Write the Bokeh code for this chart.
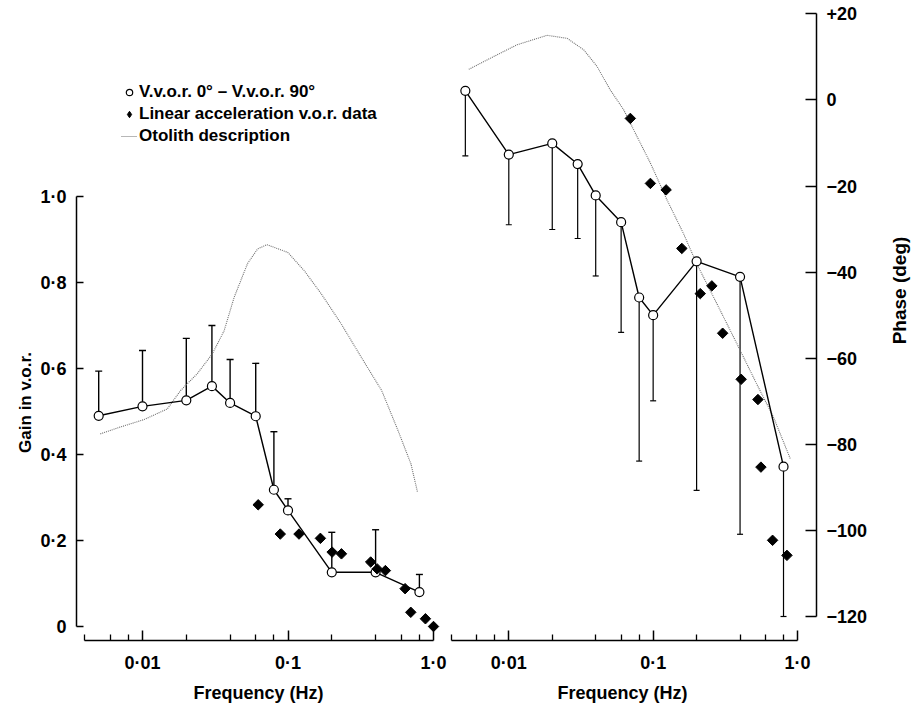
import numpy as np
from bokeh.plotting import figure
from bokeh.models import (Range1d, LogScale, LinearScale, FixedTicker, Whisker, TeeHead,
                          ColumnDataSource, Legend, LegendItem, Label, LinearAxis, LogAxis)
from bokeh.embed import file_html
from bokeh.resources import INLINE

# ---------------- data ----------------
# V.v.o.r. 0deg - V.v.o.r. 90deg (open circles)
vvor_freq = [0.005, 0.01, 0.02, 0.03, 0.04, 0.06, 0.08, 0.1, 0.2, 0.4, 0.8]
vvor_gain = [0.49, 0.512, 0.526, 0.559, 0.52, 0.489, 0.318, 0.27, 0.126, 0.126, 0.08]
vvor_gain_upper = [0.594, 0.642, 0.67, 0.70, 0.621, 0.612, 0.453, 0.297, 0.219, 0.225, 0.121]
vvor_phase = [2.1, -12.7, -10.1, -14.9, -22.2, -28.4, -45.9, -50.0, -37.5, -41.1, -85.2]
vvor_phase_lower = [-13.0, -29.0, -30.1, -32.2, -40.9, -54.0, -83.9, -69.9, -90.7, -100.9, -120.0]

# Linear acceleration v.o.r. data (filled diamonds)
lin_gain_freq = [0.0624, 0.0885, 0.119, 0.167, 0.201, 0.233, 0.37, 0.41, 0.467, 0.638, 0.698, 0.88, 1.0]
lin_gain = [0.283, 0.215, 0.215, 0.205, 0.173, 0.169, 0.15, 0.134, 0.13, 0.088, 0.033, 0.018, 0.0]
lin_phase_freq = [0.0695, 0.0957, 0.123, 0.158, 0.212, 0.255, 0.303, 0.407, 0.532, 0.558, 0.672, 0.845]
lin_phase = [-4.3, -19.4, -20.9, -34.5, -45.0, -43.2, -54.2, -64.9, -69.6, -85.3, -102.3, -105.8]

# Otolith description (dotted curves)
oto_gain_freq = [0.00513, 0.00705, 0.0102, 0.0148, 0.0183, 0.0238, 0.0302, 0.0364, 0.0427,
                 0.0527, 0.0618, 0.0716, 0.0995, 0.129, 0.169, 0.232, 0.319, 0.44, 0.57,
                 0.70, 0.777]
oto_gain = [0.448, 0.464, 0.481, 0.506, 0.549, 0.588, 0.634, 0.688, 0.766,
            0.844, 0.878, 0.888, 0.870, 0.828, 0.774, 0.704, 0.626, 0.549, 0.456,
            0.378, 0.312]
oto_phase_freq = [0.00528, 0.00747, 0.0114, 0.0184, 0.0254, 0.0331, 0.0408, 0.0505, 0.0625,
                  0.0773, 0.0958, 0.125, 0.162, 0.20, 0.276, 0.38, 0.52, 0.68, 0.89]
oto_phase = [7.1, 9.7, 12.8, 15.0, 14.3, 11.6, 7.8, 2.3, -2.3,
             -8.5, -14.7, -23.3, -31.0, -38.0, -47.3, -56.6, -65.9, -73.6, -83.3]

# axis ticks and labels
freq_ticks = [0.01, 0.1, 1.0]
freq_tick_labels = ["0·01", "0·1", "1·0"]
freq_minor = [0.004, 0.006, 0.008, 0.02, 0.04, 0.06, 0.08, 0.2, 0.4, 0.6, 0.8]
gain_ticks = [0, 0.2, 0.4, 0.6, 0.8, 1.0]
gain_tick_labels = ["0", "0·2", "0·4", "0·6", "0·8", "1·0"]
phase_ticks = [20, 0, -20, -40, -60, -80, -100, -120]
phase_tick_labels = ["+20", "0", "−20", "−40", "−60", "−80", "−100", "−120"]

FONT = "Liberation Sans"
INK = "black"
OTO = "#6e6e6e"
W, H = 911, 704

# Both panels share one canvas-sized frame; each panel gets its own pair of ranges.
# gain panel:  0.01 Hz at x=142 px, 145.5 px per decade; gain 0 at y=626 px, 430 px per unit
# phase panel: 0.01 Hz at x=508.3 px, 144.35 px per decade; 0 deg at y=99.4 px, 4.305 px per deg
gx0, gdec = 142.0, 145.5
px0, pdec = 508.3, 144.35
gy0, gscale = 626.0, 430.0
py0, pscale = 99.4, 4.305


def fx(px, x0, dec):
    return 10 ** (-2 + (px - x0) / dec)


p = figure(width=W, height=H, output_backend="svg", toolbar_location=None, title=None,
           x_axis_location=None, y_axis_location=None,
           x_range=Range1d(fx(0, gx0, gdec), fx(W, gx0, gdec)),
           y_range=Range1d(-(H - gy0) / gscale, gy0 / gscale),
           min_border=0, min_border_left=0, min_border_right=0,
           min_border_top=0, min_border_bottom=0)
p.x_scale = LogScale()
p.y_scale = LinearScale()
p.extra_x_ranges = {"phase_f": Range1d(fx(0, px0, pdec), fx(W, px0, pdec))}
p.extra_x_scales = {"phase_f": LogScale()}
p.extra_y_ranges = {"phase": Range1d(-(H - py0) / pscale, py0 / pscale)}
p.grid.grid_line_color = None
p.outline_line_color = None
p.background_fill_color = "white"
p.border_fill_color = "white"


def style_axis(ax, tick_in):
    ax.axis_line_color = INK
    ax.axis_line_width = 1.5
    ax.major_tick_line_color = INK
    ax.major_tick_line_width = 1.5
    ax.minor_tick_line_color = INK
    ax.minor_tick_line_width = 1.3
    ax.major_tick_in = tick_in
    ax.major_tick_out = 0
    ax.minor_tick_in = 6
    ax.minor_tick_out = 0
    ax.major_label_text_font = FONT
    ax.major_label_text_font_style = "bold"
    ax.major_label_text_font_size = "18px"
    ax.major_label_text_color = INK


x_axis_y = -(640 - gy0) / gscale   # both frequency axes sit at y = 640 px

# frequency axis of the gain panel
ax_gf = LogAxis(ticker=FixedTicker(ticks=freq_ticks, minor_ticks=freq_minor),
                major_label_overrides=dict(zip(freq_ticks, freq_tick_labels)),
                bounds=(0.004, 1.0), fixed_location=x_axis_y, major_label_standoff=12)
style_axis(ax_gf, 10)
p.add_layout(ax_gf, "below")

# frequency axis of the phase panel
ax_pf = LogAxis(x_range_name="phase_f",
                ticker=FixedTicker(ticks=freq_ticks, minor_ticks=freq_minor),
                major_label_overrides=dict(zip(freq_ticks, freq_tick_labels)),
                bounds=(0.004, 1.0), fixed_location=x_axis_y, major_label_standoff=12)
style_axis(ax_pf, 10)
p.add_layout(ax_pf, "below")

# gain axis at x = 76 px
ax_g = LinearAxis(ticker=FixedTicker(ticks=gain_ticks, minor_ticks=[]),
                  major_label_overrides=dict(zip(gain_ticks, gain_tick_labels)),
                  bounds=(0, 1.0), fixed_location=fx(76, gx0, gdec), major_label_standoff=10)
style_axis(ax_g, 7)
p.add_layout(ax_g, "left")

# phase axis at x = 816 px
ax_p = LinearAxis(x_range_name="phase_f", y_range_name="phase",
                  ticker=FixedTicker(ticks=phase_ticks, minor_ticks=[]),
                  major_label_overrides=dict(zip(phase_ticks, phase_tick_labels)),
                  bounds=(-120, 20), fixed_location=fx(816, px0, pdec), major_label_standoff=10)
style_axis(ax_p, 11)
p.add_layout(ax_p, "right")

# ---------------- gain panel marks ----------------
g_src = ColumnDataSource(dict(f=vvor_freq, g=vvor_gain, up=vvor_gain_upper))
p.add_layout(Whisker(source=g_src, base="f", lower="g", upper="up", dimension="height",
                     line_color=INK, line_width=1.4, lower_head=None,
                     upper_head=TeeHead(size=7, line_color=INK, line_width=1.4)))
oto_g = p.line(oto_gain_freq, oto_gain, line_color=OTO, line_width=1.1, line_dash="1 1")
p.line("f", "g", source=g_src, line_color=INK, line_width=1.4)
circ_g = p.scatter("f", "g", source=g_src, marker="circle", size=9,
                   fill_color="white", line_color=INK, line_width=1.2)
p.scatter(lin_gain_freq, lin_gain, marker="square", angle=np.pi / 4, size=7.4,
          fill_color=INK, line_color=INK)
# diamond-shaped key for the legend (the points above are drawn as rotated squares)
dia_key = p.scatter(lin_gain_freq, lin_gain, marker="diamond", size=9,
                    fill_color=INK, line_color=INK, visible=False)

# ---------------- phase panel marks ----------------
ph_kw = dict(x_range_name="phase_f", y_range_name="phase")
p_src = ColumnDataSource(dict(f=vvor_freq, ph=vvor_phase, lo=vvor_phase_lower))
p.add_layout(Whisker(source=p_src, base="f", lower="lo", upper="ph", dimension="height",
                     line_color=INK, line_width=1.2, upper_head=None,
                     lower_head=TeeHead(size=6, line_color=INK, line_width=1.2), **ph_kw))
p.line(oto_phase_freq, oto_phase, line_color=OTO, line_width=1.1, line_dash="1 1", **ph_kw)
p.line("f", "ph", source=p_src, line_color=INK, line_width=1.4, **ph_kw)
p.scatter("f", "ph", source=p_src, marker="circle", size=9,
          fill_color="white", line_color=INK, line_width=1.2, **ph_kw)
p.scatter(lin_phase_freq, lin_phase, marker="square", angle=np.pi / 4, size=7.4,
          fill_color=INK, line_color=INK, **ph_kw)

# ---------------- legend ----------------
legend = Legend(items=[
    LegendItem(label="V.v.o.r. 0° – V.v.o.r. 90°", renderers=[circ_g]),
    LegendItem(label="Linear acceleration v.o.r. data", renderers=[dia_key]),
    LegendItem(label="Otolith description", renderers=[oto_g]),
], location=(121, 558), padding=0, margin=0, spacing=2,
    glyph_width=16, glyph_height=20, label_height=20, label_standoff=2,
    label_text_font=FONT, label_text_font_style="bold", label_text_font_size="17px",
    label_text_color=INK, border_line_color=None, background_fill_alpha=0,
    inactive_fill_alpha=0)
p.add_layout(legend)


# ---------------- axis titles ----------------
def title_label(text, x, y, size, angle=0.0):
    # screen units, measured from the bottom-left corner of the canvas
    return Label(x=x, y=y, x_units="screen", y_units="screen", text=text, angle=angle,
                 text_align="center", text_baseline="middle", text_font=FONT,
                 text_font_style="bold", text_font_size=size, text_color=INK)


p.add_layout(title_label("Gain in v.o.r.", 25, H - 402, "17px", angle=np.pi / 2))
p.add_layout(title_label("Frequency (Hz)", 258, H - 692.5, "18px"))
p.add_layout(title_label("Frequency (Hz)", 622, H - 692.5, "18px"))
p.add_layout(title_label("Phase (deg)", 899, H - 290, "19px", angle=np.pi / 2))

open("out.html", "w").write(file_html(p, INLINE))
